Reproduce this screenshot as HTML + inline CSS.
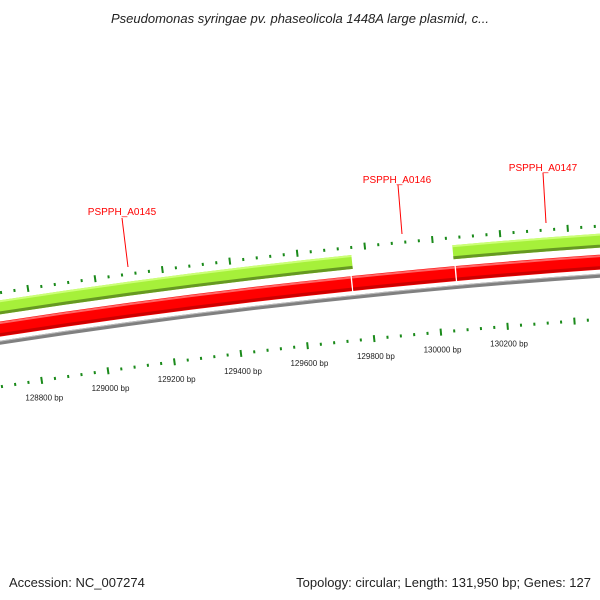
<!DOCTYPE html>
<html><head><meta charset="utf-8"><style>
html,body{margin:0;padding:0;background:#fff;}
svg{display:block;font-family:"Liberation Sans","DejaVu Sans",sans-serif;}
</style></head><body>
<svg id="map" width="600" height="600" viewBox="0 0 600 600" xmlns="http://www.w3.org/2000/svg">
<rect width="600" height="600" fill="#fff"/>
<text x="300" y="23" text-anchor="middle" font-size="13" font-style="italic" fill="#222">Pseudomonas syringae pv. phaseolicola 1448A large plasmid, c...</text>
<g id="tracks"></g>
<g id="ticks"></g>
<g id="labels">
<line x1="122" y1="218" x2="128" y2="267" stroke="#f00" stroke-width="1"/>
<text x="122" y="215" text-anchor="middle" font-size="10" fill="#f00">PSPPH_A0145</text>
<line x1="398" y1="185" x2="402" y2="234" stroke="#f00" stroke-width="1"/>
<text x="397" y="183" text-anchor="middle" font-size="10" fill="#f00">PSPPH_A0146</text>
<line x1="543" y1="173" x2="546" y2="223" stroke="#f00" stroke-width="1"/>
<text x="543" y="171" text-anchor="middle" font-size="10" fill="#f00">PSPPH_A0147</text>
</g>
<text x="9" y="587" font-size="13" fill="#222">Accession: NC_007274</text>
<text x="591" y="587" text-anchor="end" font-size="13" fill="#222">Topology: circular; Length: 131,950 bp; Genes: 127</text>
</svg>
<script>
const plasmidLength = 131950;
const forwardGeneStarts = [126000, 130057];
const forwardGeneEnds = [129758, 134000];
const reverseGeneStarts = [126000, 129751, 130060];
const reverseGeneEnds = [129751, 130060, 134000];
const tickStart = 128480;
const tickEnd = 130600;
const tickStep = 40;
const tickLabels = [128800, 129000, 129200, 129400, 129600, 129800, 130000, 130200];

const NS = "http://www.w3.org/2000/svg";
const CX = 1086, CY = 7340;
const K = 2 * Math.PI / plasmidLength;
const PHI0 = -0.0918, REF = 130000;
function ang(bp){ return PHI0 + (bp - REF) * K; }
function pt(r, bp){ const a = ang(bp); return [CX + r * Math.sin(a), CY - r * Math.cos(a)]; }
function arcD(r, b1, b2){
  const p1 = pt(r, b1), p2 = pt(r, b2);
  return "M" + p1[0].toFixed(2) + " " + p1[1].toFixed(2) + " A" + r + " " + r + " 0 0 1 " + p2[0].toFixed(2) + " " + p2[1].toFixed(2);
}
const tracks = document.getElementById("tracks");
function arc(r, b1, b2, color, w, name){
  const p = document.createElementNS(NS, "path");
  p.setAttribute("d", arcD(r, b1, b2));
  p.setAttribute("stroke", color);
  p.setAttribute("stroke-width", w);
  p.setAttribute("fill", "none");
  
  
  tracks.appendChild(p);
  return p;
}
// backbone
arc(7081, 126000, 134000, "#808080", 4, "backbone-circle");
arc(7082.5, 126000, 134000, "#bbbbbb", 1, "backbone-highlight");
// reverse genes
for (let i = 0; i < reverseGeneStarts.length; i++) {
  const s = reverseGeneStarts[i] + 2, e = reverseGeneEnds[i] - 2;
  const g = arc(7094.5, s, e, "#ff0000", 15, "reverse-gene");
  
  arc(7089, s, e, "#cc0000", 3, "reverse-gene-shadow");
  arc(7100.5, s, e, "#ff6666", 2, "reverse-gene-highlight");
}
// forward genes
for (let i = 0; i < forwardGeneStarts.length; i++) {
  const s = forwardGeneStarts[i], e = forwardGeneEnds[i];
  const g = arc(7116, s, e, "#a6f03a", 14, "forward-gene");
  
  arc(7110.5, s, e, "#669922", 3, "forward-gene-shadow");
  arc(7122, s, e, "#ccff77", 2, "forward-gene-highlight");
}
// ticks
const ticks = document.getElementById("ticks");
function tickLine(r1, r2, bp, w, name){
  const a = pt(r1, bp), b = pt(r2, bp);
  const l = document.createElementNS(NS, "line");
  l.setAttribute("x1", a[0].toFixed(2)); l.setAttribute("y1", a[1].toFixed(2));
  l.setAttribute("x2", b[0].toFixed(2)); l.setAttribute("y2", b[1].toFixed(2));
  l.setAttribute("stroke", "#1a8a1a");
  l.setAttribute("stroke-width", w);
  
  
  ticks.appendChild(l);
}
for (let bp = tickStart; bp <= tickEnd; bp += tickStep) {
  const major = bp % 200 === 0;
  if (major) {
    tickLine(7127, 7134, bp, 2, "outer-major-tick");
    tickLine(7034, 7041, bp, 2, "inner-major-tick");
  } else {
    tickLine(7129, 7132, bp, 2, "outer-minor-tick");
    tickLine(7036, 7039, bp, 2, "inner-minor-tick");
  }
}
for (let i = 0; i < tickLabels.length; i++) {
  const p = pt(7020, tickLabels[i]);
  const t = document.createElementNS(NS, "text");
  t.setAttribute("x", p[0].toFixed(1));
  t.setAttribute("y", (p[1] + 3).toFixed(1));
  t.setAttribute("text-anchor", "middle");
  t.setAttribute("font-size", "8");
  t.setAttribute("fill", "#222");
  
  
  t.textContent = tickLabels[i] + " bp";
  ticks.appendChild(t);
}
</script>
</body></html>
